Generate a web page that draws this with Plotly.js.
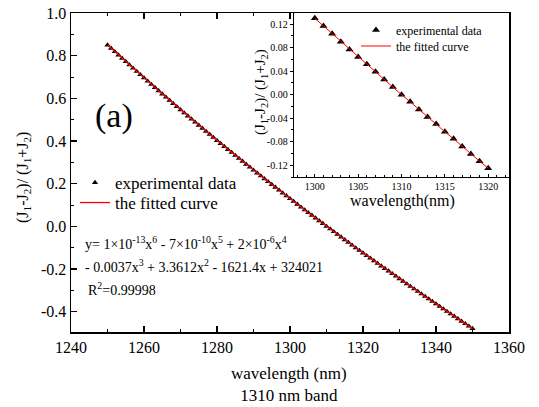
<!DOCTYPE html>
<html>
<head>
<meta charset="utf-8">
<script src="https://cdn.plot.ly/plotly-3.0.1.min.js"></script>
<style>html,body{margin:0;padding:0;background:#fff;}#chart{width:539px;height:407px;}</style>
</head>
<body>
<div id="chart"></div>
<script>
// Main data: wavelength 1250..1350 nm (1 nm step)
const mainStart = 1250;
const mainValues = [
  0.8500, 0.8343, 0.8187, 0.8031, 0.7876, 0.7722, 0.7567, 0.7414, 0.7261, 0.7108,
  0.6956, 0.6804, 0.6653, 0.6503, 0.6353, 0.6204, 0.6055, 0.5906, 0.5758, 0.5611,
  0.5464, 0.5318, 0.5172, 0.5027, 0.4882, 0.4738, 0.4594, 0.4451, 0.4308, 0.4166,
  0.4024, 0.3883, 0.3742, 0.3602, 0.3463, 0.3324, 0.3185, 0.3047, 0.2909, 0.2772,
  0.2636, 0.2500, 0.2365, 0.2230, 0.2095, 0.1962, 0.1828, 0.1695, 0.1563, 0.1431,
  0.1300, 0.1170, 0.1035, 0.0900, 0.0770, 0.0640, 0.0520, 0.0390, 0.0260, 0.0130,
  0.0000, -0.0120, -0.0250, -0.0380, -0.0500, -0.0630, -0.0750, -0.0880, -0.1010, -0.1130,
  -0.1250, -0.1372, -0.1493, -0.1615, -0.1736, -0.1857, -0.1977, -0.2097, -0.2217, -0.2337,
  -0.2457, -0.2576, -0.2695, -0.2814, -0.2932, -0.3050, -0.3168, -0.3286, -0.3403, -0.3520,
  -0.3637, -0.3753, -0.3870, -0.3986, -0.4101, -0.4217, -0.4332, -0.4447, -0.4562, -0.4676,
  -0.4790
];
const mainWavelengths = mainValues.map((_, i) => mainStart + i);

// Inset data: 1300..1320 nm
const insetWavelengths = [1300,1301,1302,1303,1304,1305,1306,1307,1308,1309,1310,
                          1311,1312,1313,1314,1315,1316,1317,1318,1319,1320];
const insetValues = [0.130, 0.117, 0.1035, 0.090, 0.077, 0.064, 0.052, 0.039, 0.026, 0.013, 0.000,
                     -0.012, -0.025, -0.038, -0.050, -0.063, -0.075, -0.088, -0.101, -0.113, -0.125];

const mainYTickVals = [-0.4,-0.2,0,0.2,0.4,0.6,0.8,1.0];
const mainYTickText = ["-0.4","-0.2","0.0","0.2","0.4","0.6","0.8","1.0"];
const insetYTickVals = [-0.12,-0.08,-0.04,0,0.04,0.08,0.12];
const insetYTickText = ["-0.12","-0.08","-0.04","0.00","0.04","0.08","0.12"];

const serif = "Liberation Serif";
const L = 71, R = 509, T = 13, B = 332;
const W = R - L, H = B - T;
const px = x => (x - L) / W;
const py = y => (B - y) / H;

const traces = [
  {x: mainWavelengths, y: mainValues, mode: 'markers', type: 'scatter', name: 'experimental data',
   marker: {symbol: 'triangle-up', size: 5.5, color: '#000'}, xaxis: 'x', yaxis: 'y', legend: 'legend'},
  {x: mainWavelengths, y: mainValues, mode: 'lines', type: 'scatter', name: 'the fitted curve',
   line: {color: '#ff0000', width: 1.3}, xaxis: 'x', yaxis: 'y', legend: 'legend3'},
  {x: insetWavelengths, y: insetValues, mode: 'markers', type: 'scatter', name: 'experimental data',
   marker: {symbol: 'triangle-up', size: 7, color: '#000'}, xaxis: 'x2', yaxis: 'y2', legend: 'legend2'},
  {x: insetWavelengths, y: insetValues, mode: 'lines', type: 'scatter', name: 'the fitted curve',
   line: {color: '#ff0000', width: 1}, xaxis: 'x2', yaxis: 'y2', legend: 'legend4'}
];

function leg(xp, yp, size) {
  return {x: px(xp), y: py(yp), xanchor: 'left', yanchor: 'middle',
          bgcolor: 'rgba(0,0,0,0)', font: {size: size, family: serif}, itemwidth: 30};
}

function ann(text, x, y, size, extra) {
  return Object.assign({text: text, x: px(x), y: py(y), xref: 'paper', yref: 'paper',
    xanchor: 'center', yanchor: 'middle', showarrow: false, font: {size: size, family: serif}}, extra || {});
}

const layout = {
  width: 539, height: 407,
  margin: {l: L, r: 539 - R, t: T, b: 407 - B},
  paper_bgcolor: '#fff', plot_bgcolor: '#fff',
  font: {family: serif, color: '#000', size: 16},
  showlegend: true,
  xaxis: {
    range: [1240, 1360], tickmode: 'linear', tick0: 1240, dtick: 20,
    ticks: 'inside', ticklen: 6, tickwidth: 1.2, tickcolor: '#000',
    minor: {dtick: 10, tick0: 1240, ticks: 'inside', ticklen: 3, tickwidth: 1, tickcolor: '#000'},
    showline: true, linecolor: '#000', linewidth: 1.5, mirror: 'ticks',
    showgrid: false, zeroline: false, tickfont: {size: 16, family: serif},
    domain: [0, 1], anchor: 'y'
  },
  yaxis: {
    range: [-0.495, 1.0], tickmode: 'array', tickvals: mainYTickVals, ticktext: mainYTickText,
    ticks: 'inside', ticklen: 6, tickwidth: 1.2, tickcolor: '#000',
    minor: {dtick: 0.1, tick0: 0, ticks: 'inside', ticklen: 3, tickwidth: 1, tickcolor: '#000'},
    showline: true, linecolor: '#000', linewidth: 1.5, mirror: true,
    showgrid: false, zeroline: false, tickfont: {size: 16, family: serif},
    domain: [0, 1], anchor: 'x'
  },
  xaxis2: {
    range: [1297.6, 1322.4], tickmode: 'linear', tick0: 1300, dtick: 5,
    ticks: 'inside', ticklen: 3, tickwidth: 1, tickcolor: '#000',
    minor: {dtick: 1, ticks: 'inside', ticklen: 2, tickcolor: '#000'},
    showline: true, linecolor: '#000', linewidth: 1.3, mirror: true,
    showgrid: false, zeroline: false, tickfont: {size: 10, family: serif},
    domain: [px(294), 1], anchor: 'y2'
  },
  yaxis2: {
    range: [-0.14, 0.139], tickmode: 'array', tickvals: insetYTickVals, ticktext: insetYTickText,
    ticks: 'outside', ticklen: 3, tickwidth: 1, tickcolor: '#000',
    minor: {dtick: 0.02, tick0: 0, ticks: 'outside', ticklen: 2, tickcolor: '#000'},
    showline: true, linecolor: '#000', linewidth: 1.3, mirror: true,
    showgrid: false, zeroline: false, tickfont: {size: 10, family: serif},
    domain: [py(177), 1], anchor: 'x2'
  },
  legend: leg(75, 183, 17),
  legend3: leg(75, 203, 17),
  legend2: leg(356, 30, 12),
  legend4: leg(356, 46, 12),
  shapes: [
    {type: 'rect', xref: 'paper', yref: 'paper', x0: px(294), x1: 1, y0: py(177), y1: 1,
     fillcolor: '#fff', line: {width: 0}, layer: 'below'}
  ],
  annotations: [
    ann('(a)', 114, 116, 34),
    ann('y= 1×10<sup>-13</sup>x<sup>6</sup> - 7×10<sup>-10</sup>x<sup>5</sup> + 2×10<sup>-6</sup>x<sup>4</sup>',
        83, 243, 14, {xanchor: 'left'}),
    ann('- 0.0037x<sup>3</sup> + 3.3612x<sup>2</sup> - 1621.4x + 324021', 83, 266, 14, {xanchor: 'left'}),
    ann('R<sup>2</sup>=0.99998', 86, 289, 14, {xanchor: 'left'}),
    ann('wavelength (nm)<br>1310 nm band', 289, 384, 17),
    ann('(J<sub>1</sub>-J<sub>2</sub>)/ (J<sub>1</sub>+J<sub>2</sub>)', 24, 178, 16, {textangle: -90}),
    ann('wavelength(nm)', 402, 201, 16),
    ann('(J<sub>1</sub>-J<sub>2</sub>)/ (J<sub>1</sub>+J<sub>2</sub>)', 261, 92, 15, {textangle: -90})
  ]
};

Plotly.newPlot('chart', traces, layout, {displayModeBar: false, staticPlot: true});
</script>
</body>
</html>
